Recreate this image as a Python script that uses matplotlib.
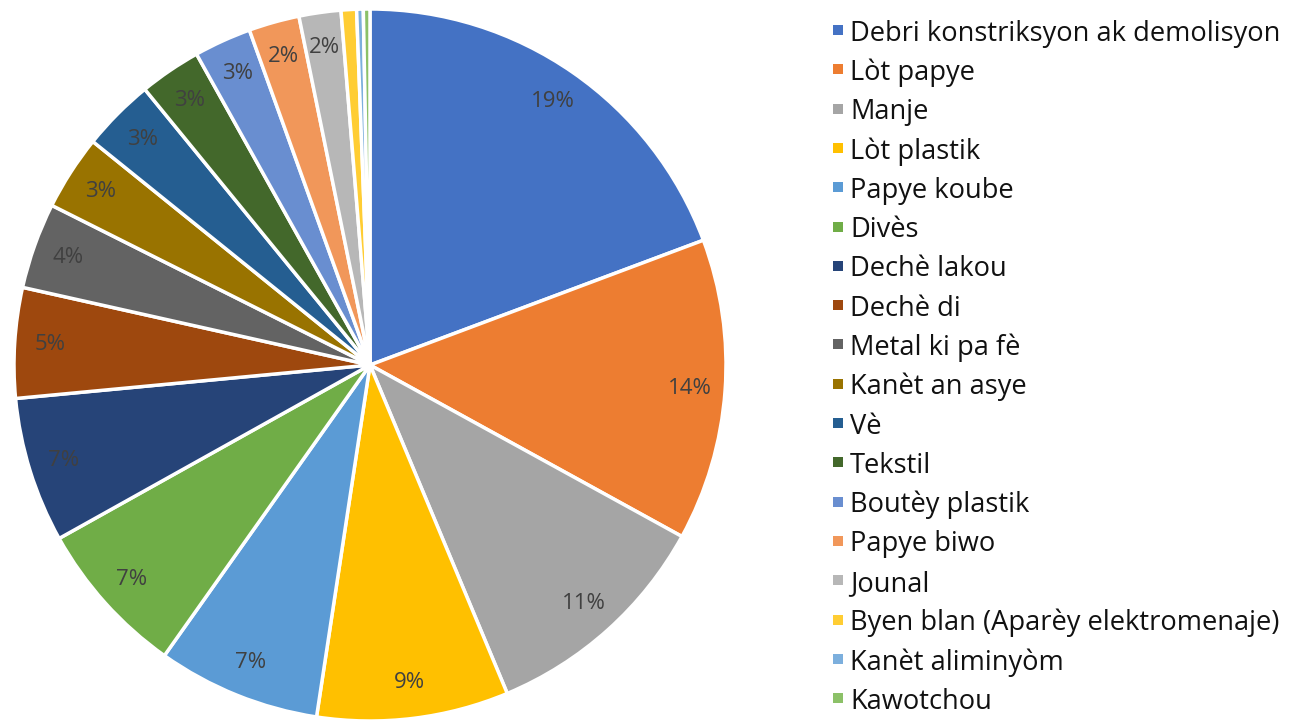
import matplotlib
matplotlib.use("Agg")
import matplotlib.pyplot as plt
from matplotlib.patches import Rectangle

categories = [
    "Debri konstriksyon ak demolisyon", "Lòt papye", "Manje", "Lòt plastik",
    "Papye koube", "Divès", "Dechè lakou", "Dechè di", "Metal ki pa fè",
    "Kanèt an asye", "Vè", "Tekstil", "Boutèy plastik", "Papye biwo",
    "Jounal", "Byen blan (Aparèy elektromenaje)", "Kanèt aliminyòm", "Kawotchou",
]
values = [19.3, 13.7, 10.7, 8.7, 7.4, 7.1, 6.6, 5.0, 3.9, 3.4, 3.3, 2.8, 2.6,
          2.3, 1.9, 0.7, 0.3, 0.3]
colors = ["#4472C4", "#ED7D31", "#A5A5A5", "#FFC000", "#5B9BD5", "#70AD47",
          "#264478", "#9E480E", "#636363", "#997300", "#255E91", "#43682B",
          "#698ED0", "#F1975A", "#B7B7B7", "#FFCD33", "#7CAFDD", "#8CC168"]

plt.rcParams['font.family'] = ['Open Sans', 'DejaVu Sans']

W, H = 1303, 723
fig = plt.figure(figsize=(W / 100, H / 100), dpi=100)
cx, cy, r = 370, 365, 356
ax = fig.add_axes([(cx - r) / W, (H - cy - r) / H, 2 * r / W, 2 * r / H])

def fmt(p):
    return f"{p:.0f}%" if p >= 1 else ""

wedges, texts, autotexts = ax.pie(
    values, colors=colors, startangle=90, counterclock=False,
    autopct=fmt, pctdistance=0.90, radius=1.0,
    wedgeprops=dict(edgecolor="white", linewidth=2.5),
    textprops=dict(color="#404040", fontsize=16),
)
ax.set_xlim(-1, 1)
ax.set_ylim(-1, 1)
ax.set_aspect("equal")
ax.axis("off")

# legend, drawn manually in figure pixel layout
leg_x, leg_top, leg_step, box = 833, 30, 39.3, 10
for i, (cat, col) in enumerate(zip(categories, colors)):
    yc = leg_top + i * leg_step
    fig.add_artist(Rectangle(((leg_x) / W, 1 - (yc + box / 2) / H),
                             box / W, box / H, transform=fig.transFigure,
                             facecolor=col, edgecolor="none"))
    fig.text((leg_x + box + 7) / W, 1 - yc / H, cat, fontsize=19.6,
             color="#111111", va="center_baseline", ha="left")

fig.savefig("out.png", dpi=100)
